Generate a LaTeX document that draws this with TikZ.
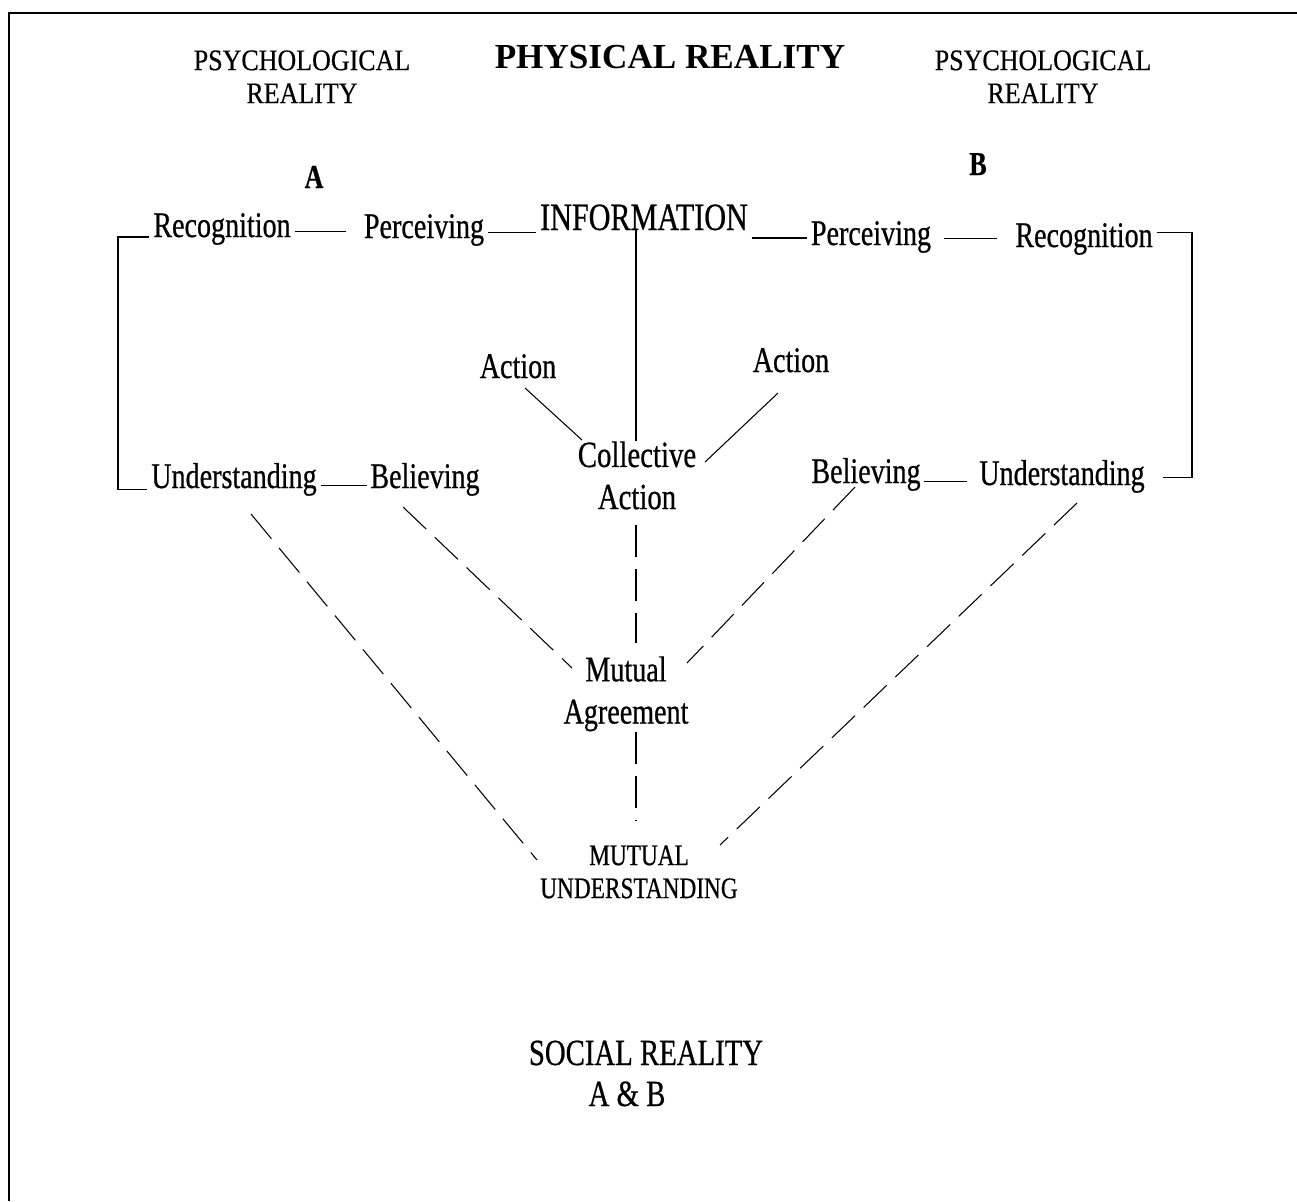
\documentclass[tikz,border=0pt]{standalone}
\usepackage{fontspec}
\setmainfont{Liberation Serif}
\newfontfamily\headfont[FakeStretch=0.87, FakeBold=0.4]{Liberation Serif}
\newfontfamily\condfont[FakeStretch=0.78, FakeBold=0.6]{Liberation Serif}
\usetikzlibrary{calc}
\tikzset{
  head/.style={font=\headfont\fontsize{17pt}{18.8pt}\selectfont, align=center, inner sep=0pt},
  title/.style={font=\bfseries\fontsize{20pt}{24pt}\selectfont, inner sep=0pt},
  term/.style={font=\condfont\fontsize{20.5pt}{24pt}\selectfont, inner sep=2pt},
  pair/.style={font=\condfont\fontsize{#1}{24pt}\selectfont, align=center, inner sep=0pt},
  caps/.style={font=\condfont\fontsize{17pt}{18.8pt}\selectfont, align=center, inner sep=0pt},
  person/.style={font=\condfont\bfseries\fontsize{19pt}{22pt}\selectfont, inner sep=0pt},
  link/.style={line width=0.6pt},
  dlink/.style={line width=0.6pt, dash pattern=on 18.2pt off 6.8pt},
  frame/.style={line width=1.5pt},
}
\begin{document}
\begin{tikzpicture}[x=0.02cm, y=-0.02cm]
  \useasboundingbox (0,0) rectangle (1297,1201);
  % Frame
  \draw[frame] (9,1201) -- (9,13) -- (1297,13);
  % Guide coordinates
  \coordinate (axis) at (636,0);
  \coordinate (brl) at (118,0);
  \coordinate (brr) at (1192,0);

  % Header labels
  \node[head, anchor=north] (psyA) at (302,50) {PSYCHOLOGICAL\\REALITY};
  \node[title, anchor=north] (phys) at (670,45) {PHYSICAL REALITY};
  \node[head, anchor=north] (psyB) at (1043,50) {PSYCHOLOGICAL\\REALITY};
  \node[person, anchor=base] (persA) at (314,188) {A};
  \node[person, anchor=base] (persB) at (978,175) {B};

  % Top row
  \node[term, anchor=base] (rec1) at (222,237) {Recognition};
  \node[term, anchor=base] (perc1) at (424,238) {Perceiving};
  \node[term, font=\condfont\fontsize{22pt}{26pt}\selectfont, anchor=base] (info) at (644,230) {INFORMATION};
  \node[term, anchor=base] (perc2) at (871,245) {Perceiving};
  \node[term, anchor=base] (rec2) at (1084,247) {Recognition};

  % Action
  \node[term, anchor=base] (act1) at (518,378) {Action};
  \node[term, anchor=base] (act2) at (791,372) {Action};
  \node[pair=21pt, anchor=north] (coll) at (637,441) {Collective\\Action};

  % Lower row
  \node[term, anchor=base] (und1) at (234,488) {Understanding};
  \node[term, anchor=base] (bel1) at (425,488) {Believing};
  \node[term, anchor=base] (bel2) at (866,483) {Believing};
  \node[term, anchor=base] (und2) at (1062,485) {Understanding};

  % Mutual results
  \node[pair=20.5pt, anchor=north] (agree) at (626,656) {Mutual\\Agreement};
  \node[caps, anchor=north] (mu) at (639,845) {MUTUAL\\UNDERSTANDING};
  \node[term, font=\condfont\fontsize{21pt}{25pt}\selectfont, anchor=base] (social) at (646,1065) {SOCIAL REALITY};
  \node[term, font=\condfont\fontsize{21pt}{25pt}\selectfont, anchor=base] (socialab) at (627,1106) {A \& B};

  % Brackets
  \draw[link] (rec1.base west) -- (rec1.base west -| brl) -- ([yshift=-1pt]und1.base west -| brl) -- ([yshift=-1pt]und1.base west);
  \draw[link, shorten >=8pt] ([yshift=8pt]rec2.base east) -- ([yshift=8pt]rec2.base east -| brr) -- ([yshift=4.5pt]und2.base east -| brr) -- ([yshift=4.5pt]und2.base east);

  % Row links
  \draw[link, shorten >=8pt] ([yshift=3pt]rec1.base east) -- ([yshift=3pt]rec1.base east -| perc1.west);
  \draw[link] ([yshift=3pt]perc1.base east) -- ([yshift=3pt]perc1.base east -| info.west);
  \draw[link] ([yshift=4pt]perc2.base west -| info.east) -- ([yshift=4pt]perc2.base west);
  \draw[link, shorten <=5pt, shorten >=8pt] ([yshift=3.5pt]perc2.base east) -- ([yshift=3.5pt]perc2.base east -| rec2.west);
  \draw[link] ([yshift=1.5pt]und1.base east) -- ([yshift=1.5pt]und1.base east -| bel1.west);
  \draw[link, shorten >=5pt] ([yshift=2pt]und2.base west -| bel2.east) -- ([yshift=2pt]und2.base west);

  % Action links
  \draw[link] (info.base -| axis) -- (coll.north -| axis);
  \draw[link] ($(act1.base)+(7,10)$) -- ($(coll.north)+(-55,-1)$);
  \draw[link] ($(act2.base)+(-13,21)$) -- ($(coll.north)+(68,21)$);

  % Agreement links
  \draw[dlink, shorten <=8.5pt, shorten >=7.4pt] (coll.south -| axis) -- (agree.north -| axis);
  \draw[dlink] ($(bel1.base)+(-22,19)$) -- ($(agree.north)+(-54,12)$);
  \draw[dlink] ($(bel2.base)+(-11,4)$) -- ($(agree.north)+(61,7)$);

  % Understanding links
  \draw[dlink, shorten >=14pt] (agree.south -| axis) -- (mu.north -| axis);
  \draw[dlink] ($(und1.base)+(17,26)$) -- ($(mu.north)+(-102,15)$);
  \draw[dlink] ($(und2.base)+(15,18)$) -- ($(mu.north)+(81,0)$);
\end{tikzpicture}
\end{document}
